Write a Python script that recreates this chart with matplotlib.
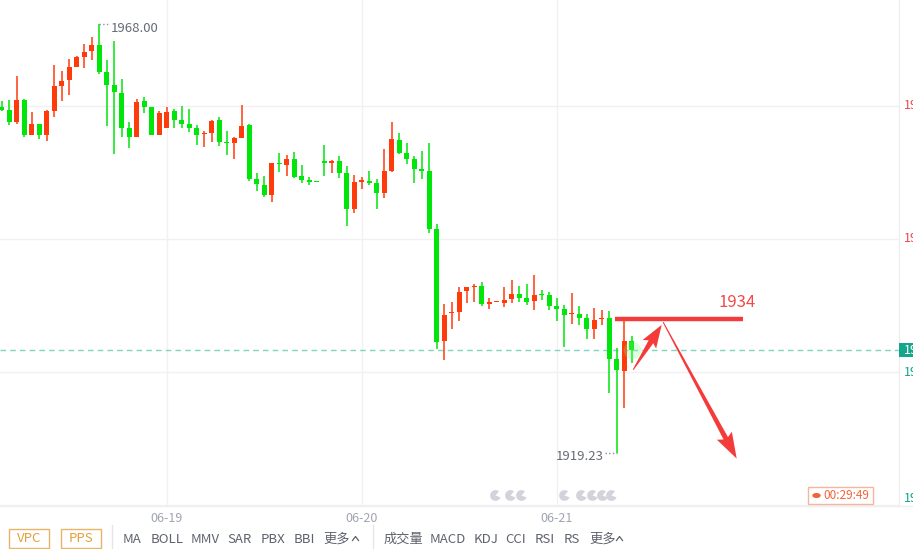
import matplotlib
matplotlib.use("Agg")
import matplotlib.pyplot as plt
from matplotlib.patches import Rectangle, Polygon
from matplotlib.lines import Line2D
from matplotlib.transforms import IdentityTransform, blended_transform_factory
from matplotlib.path import Path
import numpy as np

plt.rcParams['font.family'] = ['Noto Sans CJK SC', 'DejaVu Sans']

# 小时K线 (85根)
opens = [
    1958.53, 1958.23, 1956.90, 1959.36, 1955.38, 1956.63, 1955.38, 1958.15, 1960.95, 1961.64,
    1963.15, 1964.28, 1964.97, 1965.61, 1962.58, 1961.07, 1960.16, 1956.21, 1955.19, 1959.25,
    1958.57, 1955.38, 1956.21, 1958.11, 1957.09, 1956.63, 1956.14, 1955.46, 1955.64, 1957.09,
    1954.62, 1954.44, 1955.08, 1956.52, 1950.38, 1949.70, 1948.56, 1952.23, 1951.97, 1952.62,
    1950.72, 1950.27, 1950.04, 1952.35, 1952.23, 1952.43, 1951.10, 1946.97, 1950.07, 1950.15,
    1949.89, 1948.82, 1951.29, 1954.82, 1953.30, 1952.62, 1951.40, 1951.29, 1944.70, 1932.00,
    1935.11, 1935.30, 1937.68, 1938.07, 1938.22, 1936.14, 1936.35, 1936.25, 1936.74, 1937.31,
    1936.82, 1936.55, 1937.19, 1937.19, 1935.94, 1935.57, 1934.98, 1935.03, 1934.55, 1933.33,
    1934.43, 1934.55, 1929.92, 1928.59, 1931.97]
highs = [
    1959.28, 1959.36, 1962.09, 1959.48, 1958.00, 1956.63, 1958.23, 1963.34, 1962.66, 1963.99,
    1964.36, 1965.69, 1966.56, 1968.00, 1963.91, 1966.07, 1961.75, 1956.90, 1959.48, 1959.74,
    1958.57, 1958.11, 1958.57, 1958.34, 1958.68, 1958.34, 1956.52, 1955.84, 1957.09, 1957.40,
    1955.84, 1955.19, 1958.79, 1956.63, 1951.03, 1950.72, 1952.17, 1953.37, 1953.11, 1953.45,
    1951.97, 1950.64, 1950.04, 1954.25, 1952.54, 1952.99, 1951.86, 1950.84, 1950.64, 1951.29,
    1950.38, 1953.76, 1956.90, 1955.64, 1954.47, 1952.99, 1953.56, 1954.51, 1945.27, 1936.17,
    1936.37, 1938.10, 1938.14, 1938.41, 1938.64, 1936.82, 1936.40, 1938.14, 1938.90, 1938.22,
    1938.45, 1939.47, 1937.76, 1937.57, 1936.82, 1936.06, 1937.46, 1935.94, 1935.03, 1935.68,
    1935.49, 1935.38, 1931.14, 1934.35, 1932.53]
lows = [
    1958.15, 1956.52, 1956.60, 1955.19, 1955.38, 1954.93, 1954.74, 1957.46, 1959.28, 1959.93,
    1963.11, 1963.03, 1963.91, 1962.32, 1956.41, 1953.22, 1955.19, 1953.94, 1955.19, 1957.92,
    1955.38, 1955.38, 1956.21, 1956.21, 1956.21, 1955.76, 1954.25, 1954.05, 1954.62, 1954.17,
    1953.11, 1952.66, 1955.08, 1950.19, 1949.05, 1948.30, 1947.80, 1951.21, 1950.72, 1950.50,
    1949.96, 1949.70, 1950.00, 1950.72, 1951.10, 1950.53, 1945.04, 1946.55, 1949.21, 1949.70,
    1946.97, 1948.26, 1951.21, 1953.19, 1952.09, 1949.96, 1950.38, 1944.28, 1931.02, 1929.86,
    1933.33, 1934.27, 1936.25, 1936.37, 1935.98, 1935.57, 1936.35, 1935.87, 1936.32, 1936.43,
    1936.06, 1935.49, 1936.63, 1935.49, 1934.24, 1931.32, 1933.90, 1933.78, 1932.16, 1932.16,
    1933.78, 1926.09, 1919.23, 1924.38, 1929.43]
closes = [
    1958.23, 1956.90, 1959.36, 1955.38, 1956.63, 1955.38, 1958.11, 1960.95, 1961.52, 1963.15,
    1964.28, 1964.85, 1965.61, 1962.58, 1961.07, 1960.31, 1956.21, 1955.19, 1959.17, 1958.57,
    1955.38, 1957.92, 1958.00, 1957.09, 1956.63, 1956.14, 1955.38, 1955.64, 1956.97, 1954.62,
    1954.44, 1955.08, 1956.41, 1950.38, 1949.78, 1948.56, 1952.17, 1952.09, 1952.62, 1950.64,
    1950.27, 1950.07, 1950.00, 1952.23, 1952.43, 1951.10, 1946.97, 1950.04, 1950.23, 1949.96,
    1948.82, 1951.29, 1954.93, 1953.37, 1952.66, 1951.52, 1951.33, 1944.70, 1931.89, 1934.92,
    1935.30, 1937.54, 1938.07, 1938.25, 1936.14, 1936.40, 1936.40, 1936.63, 1937.27, 1936.89,
    1936.43, 1937.19, 1937.14, 1935.98, 1935.60, 1934.92, 1935.09, 1934.61, 1933.33, 1934.35,
    1934.58, 1929.92, 1928.67, 1931.97, 1930.94]

day_labels = ["06-19", "06-20", "06-21"]
day_index = [22, 48, 74]
grid_prices = [1958.70, 1943.60, 1928.40, 1913.30]

max_idx, max_price = 13, 1968.00
min_idx, min_price = 82, 1919.23

# 手绘标注
target_level = 1934.5
target_label = "1934"
target_span = [81.8, 98.8]
arrow_up = [(84.2, 1928.7), (88.0, 1933.8)]
arrow_down = [(88.2, 1934.1), (98.0, 1918.6)]

event_idx = [65.8, 67.8, 69.3, 75.0, 77.3, 78.7, 80.0, 81.3]

UP = '#ff3b0c'
DOWN = '#00e60b'
RED_TXT = '#ee4650'
TEAL = '#14a58a'

W, H = 913, 549
fig = plt.figure(figsize=(W / 100, H / 100), dpi=100)
fig.patch.set_facecolor('white')
ax = fig.add_axes([0, (H - 506) / H, 899 / W, 506 / H])

n = len(opens)
x = np.arange(n)
o = np.array(opens); c = np.array(closes)
hi = np.array(highs); lo = np.array(lows)
cols = [UP if cc >= oo else DOWN for oo, cc in zip(o, c)]

ax.vlines(x, lo, hi, colors=cols, linewidth=1.1, zorder=3)
body = np.maximum(np.abs(c - o), 0.15)
ax.bar(x, body, bottom=np.minimum(o, c), width=0.68, color=cols, linewidth=0, zorder=4)

ax.set_xlim(-0.227, 119.64)
ax.set_ylim(1913.21, 1970.73)

ax.set_xticks(day_index)
ax.set_xticklabels(day_labels)
ax.tick_params(axis='x', length=0, pad=4, labelcolor='#a0a4b0', labelsize=9)

ax.set_yticks(grid_prices)
ax.tick_params(axis='y', length=0, labelleft=False, labelright=False)

ax.grid(True, color='#f1f1f3', linewidth=1.0, zorder=0)
for s in ['top', 'left', 'bottom']:
    ax.spines[s].set_visible(False)
ax.spines['right'].set_color('#ececec')

last_price = closes[-1]


# ---- 像素坐标辅助 ----
def fx(px):
    return px / W


def fy(py):
    return 1 - py / H


# 右侧价格刻度 (被画面右边截断)
fig.canvas.draw()
for p in grid_prices:
    py = H - ax.transData.transform((0, p))[1]
    py = min(py, 499)
    fig.text(fx(904), fy(py), '%.2f' % p, color=RED_TXT if p > last_price else TEAL,
             fontsize=9, ha='left', va='center')

# 现价线
ax.axhline(last_price, color='#7fd6c1', linestyle=(0, (4, 3)), linewidth=1.0, zorder=2)
ax.scatter([n - 1], [last_price], s=160, color='#7dff7d', alpha=0.25, linewidth=0, zorder=5)

# 最高 / 最低
ax.plot([max_idx, max_idx + 1.35], [max_price, max_price], ':', color='#8a8e99', lw=1, zorder=2)
ax.annotate('%.2f' % max_price, xy=(max_idx, max_price), xytext=(12, -4),
            textcoords='offset pixels', ha='left', va='center', fontsize=9.5, color='#666a75')
ax.plot([min_idx - 1.5, min_idx], [min_price, min_price], ':', color='#8a8e99', lw=1, zorder=2)
ax.annotate('%.2f' % min_price, xy=(min_idx, min_price), xytext=(-13, -3),
            textcoords='offset pixels', ha='right', va='center', fontsize=9.5, color='#666a75')

# 事件图标
tr = blended_transform_factory(ax.transData, ax.transAxes)
ax.scatter(event_idx, [0.022] * len(event_idx), transform=tr, s=60,
           marker=Path.wedge(50, 340), color='#d3d3dc', linewidth=0, zorder=6, clip_on=False)

# 目标线与箭头
ax.plot(target_span, [target_level, target_level], color='#f23c3c', lw=3.2,
        solid_capstyle='butt', zorder=7)
ax.annotate(target_label, xy=(98.0, target_level), xytext=(0, 16),
            textcoords='offset pixels', ha='center', va='center', fontsize=12, color='#f24a4a')


def taper_arrow(p_from, p_to, w0, w1, head_w, head_l, color='#f53a3a'):
    a = ax.transData.transform(p_from)
    b = ax.transData.transform(p_to)
    d = b - a
    u = d / np.hypot(*d)
    nn = np.array([-u[1], u[0]])
    hb = b - u * head_l
    pts = [a + nn * w0 / 2, hb + nn * w1 / 2, hb - u * 3 + nn * head_w / 2, b,
           hb - u * 3 - nn * head_w / 2, hb - nn * w1 / 2, a - nn * w0 / 2]
    ax.add_patch(Polygon(pts, closed=True, transform=IdentityTransform(),
                         facecolor=color, edgecolor='none', zorder=8))


taper_arrow(arrow_up[0], arrow_up[1], 1.0, 5.5, 16, 20)
taper_arrow(arrow_down[0], arrow_down[1], 1.0, 5.0, 17, 23)

# 现价标签
fig.patches.append(Rectangle((fx(899), fy(357)), fx(14), 14 / H, transform=fig.transFigure,
                             facecolor=TEAL, edgecolor='none', zorder=1))
fig.text(fx(904), fy(350), '%.2f' % last_price, color='white', fontsize=9, va='center', ha='left',
         zorder=3)

# 底部分隔线
fig.lines.append(Line2D([0, 1], [fy(506), fy(506)], transform=fig.transFigure, color='#efeff1', lw=1))

# 倒计时框
fig.patches.append(Rectangle((fx(808), fy(504)), fx(65), 17 / H, transform=fig.transFigure,
                             facecolor='white', edgecolor='#f6b59e', lw=1, zorder=1))
fig.patches.append(plt.Circle((fx(816.5), fy(495.5)), 4.2 / W, transform=fig.transFigure,
                              facecolor='#f0643c', edgecolor='none', zorder=2))
fig.text(fx(823), fy(495.5), '00:29:49', color='#f0643c', fontsize=8.5, va='center', ha='left', zorder=3)

# 工具栏
for label, x0, x1 in [('VPC', 9.3, 49.3), ('PPS', 60.7, 100.7)]:
    fig.patches.append(Rectangle((fx(x0), fy(547.7)), fx(x1 - x0), 18.4 / H, transform=fig.transFigure,
                                 facecolor='white', edgecolor='#e8b468', lw=1, zorder=1))
    fig.text(fx((x0 + x1) / 2), fy(538.6), label, color='#e3a03a', fontsize=9.5, ha='center',
             va='center', zorder=3)

for sx in [111.7, 373.3]:
    fig.lines.append(Line2D([fx(sx), fx(sx)], [fy(525), fy(549)], transform=fig.transFigure,
                            color='#e6e6ea', lw=1))

tools = [('MA', 122.7), ('BOLL', 150.7), ('MMV', 190.7), ('SAR', 227.7), ('PBX', 260.3),
         ('BBI', 293.7), ('更多', 323.3), ('成交量', 384), ('MACD', 430), ('KDJ', 473.3),
         ('CCI', 505), ('RSI', 534.3), ('RS', 563.3), ('更多', 589)]
for label, px in tools:
    fig.text(fx(px), fy(539.3), label, color='#5e626d', fontsize=9.5, ha='left', va='center')

for cx in [355.5, 619.5]:
    fig.lines.append(Line2D([fx(cx - 3), fx(cx), fx(cx + 3)], [fy(540.5), fy(536.5), fy(540.5)],
                            transform=fig.transFigure, color='#5e626d', lw=0.9))

fig.savefig('out.png', dpi=100, facecolor='white')
